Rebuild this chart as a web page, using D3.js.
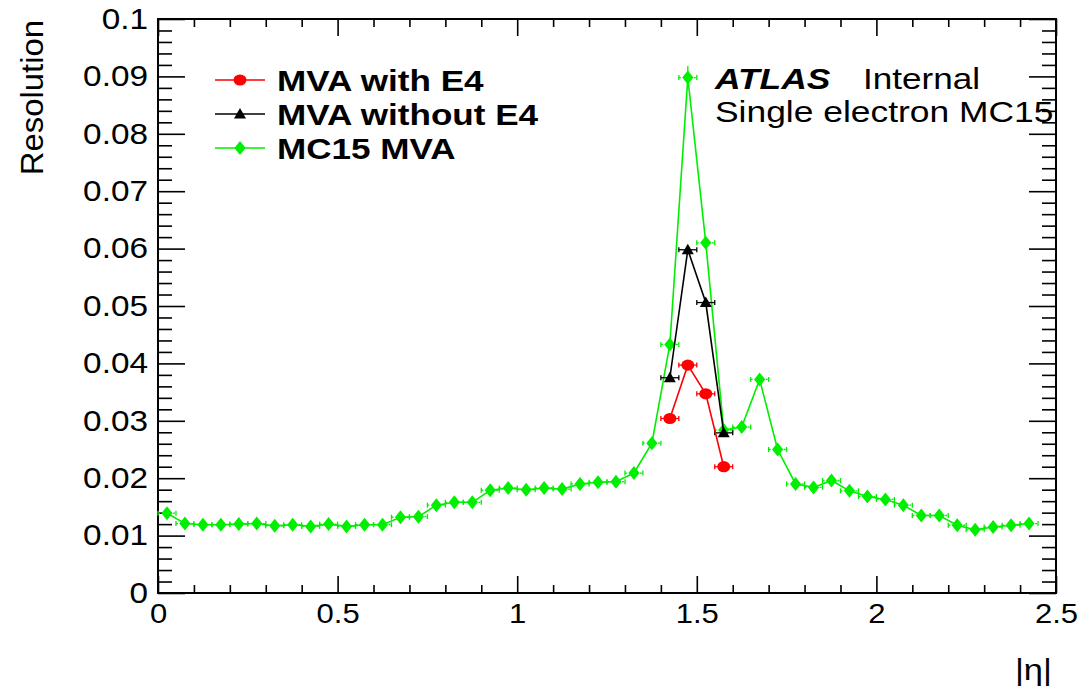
<!DOCTYPE html>
<html>
<head>
<meta charset="utf-8">
<script src="https://cdn.jsdelivr.net/npm/d3@7"></script>
<style>
  body { margin: 0; background: #fff; }
  text { font-family: "Liberation Sans", Arial, Helvetica, sans-serif; }
</style>
</head>
<body>
<div id="chart"></div>
<script>
// DATA
const eta = [0.025, 0.075, 0.125, 0.175, 0.225, 0.275, 0.325, 0.375, 0.425, 0.475,
             0.525, 0.575, 0.625, 0.675, 0.725, 0.775, 0.825, 0.875, 0.925, 0.975,
             1.025, 1.075, 1.125, 1.175, 1.225, 1.275, 1.325, 1.375, 1.425, 1.475,
             1.525, 1.575, 1.625, 1.675, 1.725, 1.775, 1.825, 1.875, 1.925, 1.975,
             2.025, 2.075, 2.125, 2.175, 2.225, 2.275, 2.325, 2.375, 2.425];
const mc15 = [0.0139, 0.0121, 0.0119, 0.0119, 0.0120, 0.0121, 0.0117, 0.0119, 0.0116, 0.0120,
              0.0116, 0.0119, 0.0119, 0.0132, 0.0133, 0.0153, 0.0158, 0.0158, 0.0179, 0.0183,
              0.0180, 0.0183, 0.0181, 0.0190, 0.0193, 0.0194, 0.0209, 0.0261, 0.0433, 0.0898,
              0.0610, 0.0284, 0.0289, 0.0372, 0.0250, 0.0190, 0.0184, 0.0196, 0.0178, 0.0168,
              0.0163, 0.0153, 0.0135, 0.0135, 0.0118, 0.0110, 0.0115, 0.0118, 0.0121];
// vertical errors, only visible around the crack region
const mc15Err = [0, 0, 0, 0, 0, 0, 0, 0, 0, 0,
                 0, 0, 0, 0, 0, 0, 0, 0, 0, 0,
                 0, 0, 0, 0, 0, 0, 0, 0.0002, 0.0006, 0.0020,
                 0.0008, 0.0003, 0, 0.0003, 0, 0, 0, 0, 0, 0,
                 0, 0, 0, 0, 0, 0, 0, 0, 0];
const etaCrack = [1.425, 1.475, 1.525, 1.575];
const withE4 = [0.0304, 0.0397, 0.0347, 0.0220];
const withoutE4 = [0.0375, 0.0598, 0.0506, 0.0279];
const halfBin = 0.025;

const seriesNames = ["MVA with E4", "MVA without E4", "MC15 MVA"];
const xTicks = [0, 0.5, 1, 1.5, 2, 2.5];
const xTickLabels = ["0", "0.5", "1", "1.5", "2", "2.5"];
const yTicks = [0, 0.01, 0.02, 0.03, 0.04, 0.05, 0.06, 0.07, 0.08, 0.09, 0.1];
const yTickLabels = ["0", "0.01", "0.02", "0.03", "0.04", "0.05", "0.06", "0.07", "0.08", "0.09", "0.1"];

const W = 1085, H = 693;
const margin = { top: 19, right: 29, bottom: 100, left: 158 };
const SX = 1.15; // ROOT fonts look horizontally stretched

const svg = d3.select("#chart").append("svg")
    .attr("width", W)
    .attr("height", H);

// SCALES
const x = d3.scaleLinear().domain([0, 2.5]).range([margin.left, W - margin.right]);
const y = d3.scaleLinear().domain([0, 0.1]).range([H - margin.bottom, margin.top]);

const x0 = x.range()[0], x1 = x.range()[1];
const y0 = y.range()[0], y1 = y.range()[1];

// minor tick values
const xMinor = d3.range(0, 26).map(i => i / 10).filter(v => Math.abs(v * 2 - Math.round(v * 2)) > 1e-6);
const yMinor = d3.range(0, 51).map(i => i / 500).filter(v => Math.abs(v * 100 - Math.round(v * 100)) > 1e-6);

function styleAxis(g) {
    g.select(".domain").remove();
    g.selectAll("line").attr("stroke", "#000").attr("stroke-width", 1.6);
}

// AXES - bottom
svg.append("g").attr("transform", "translate(0," + y0 + ")")
    .call(d3.axisBottom(x).tickValues(xTicks).tickSize(-17).tickPadding(11)
        .tickFormat((d, i) => xTickLabels[i]))
    .call(styleAxis)
    .call(g => g.selectAll("text")
        .attr("font-size", 27).attr("fill", "#000")
        .attr("transform", "scale(" + SX + ",1)"));
svg.append("g").attr("transform", "translate(0," + y0 + ")")
    .call(d3.axisBottom(x).tickValues(xMinor).tickSize(-8).tickFormat(""))
    .call(styleAxis);
// top
svg.append("g").attr("transform", "translate(0," + y1 + ")")
    .call(d3.axisTop(x).tickValues(xTicks).tickSize(-17).tickFormat(""))
    .call(styleAxis);
svg.append("g").attr("transform", "translate(0," + y1 + ")")
    .call(d3.axisTop(x).tickValues(xMinor).tickSize(-8).tickFormat(""))
    .call(styleAxis);
// left
svg.append("g").attr("transform", "translate(" + x0 + ",0)")
    .call(d3.axisLeft(y).tickValues(yTicks).tickSize(-27).tickPadding(9)
        .tickFormat((d, i) => yTickLabels[i]))
    .call(styleAxis)
    .call(g => g.selectAll("text")
        .attr("font-size", 29).attr("fill", "#000").attr("x", 0)
        .attr("transform", "translate(-10,0) scale(" + SX + ",1)"));
svg.append("g").attr("transform", "translate(" + x0 + ",0)")
    .call(d3.axisLeft(y).tickValues(yMinor).tickSize(-14).tickFormat(""))
    .call(styleAxis);
// right
svg.append("g").attr("transform", "translate(" + x1 + ",0)")
    .call(d3.axisRight(y).tickValues(yTicks).tickSize(-27).tickFormat(""))
    .call(styleAxis);
svg.append("g").attr("transform", "translate(" + x1 + ",0)")
    .call(d3.axisRight(y).tickValues(yMinor).tickSize(-14).tickFormat(""))
    .call(styleAxis);

// frame
svg.append("rect")
    .attr("x", x0).attr("y", y1)
    .attr("width", x1 - x0).attr("height", y0 - y1)
    .attr("fill", "none").attr("stroke", "#000").attr("stroke-width", 2);

// axis titles
svg.append("text")
    .attr("transform", "translate(43,20) rotate(-90) scale(1.06,1)")
    .attr("text-anchor", "end")
    .attr("font-size", 31)
    .text("Resolution");
svg.append("text")
    .attr("transform", "translate(1052,680) scale(" + SX + ",1)")
    .attr("text-anchor", "end")
    .attr("font-size", 30)
    .text("|\u03b7|");

// MARKERS
function marker(g, type, color) {
    if (type === "circle") {
        g.append("ellipse").attr("rx", 6.5).attr("ry", 5.6).attr("fill", color);
    } else if (type === "triangle") {
        g.append("path").attr("d", "M0,-6L6,4.5L-6,4.5Z").attr("fill", color);
    } else {
        g.append("path").attr("d", "M0,-7L5.6,0L0,7L-5.6,0Z").attr("fill", color);
    }
}

const series = [
    { name: seriesNames[2], xs: eta, ys: mc15, err: mc15Err, color: "#00ee00", type: "diamond" },
    { name: seriesNames[1], xs: etaCrack, ys: withoutE4, err: [0.0002, 0.0006, 0.0004, 0.0002], color: "#000", type: "triangle" },
    { name: seriesNames[0], xs: etaCrack, ys: withE4, err: [0.0002, 0.0003, 0.0003, 0.0002], color: "#ff0000", type: "circle" }
];

const line = d3.line().x(d => x(d[0])).y(d => y(d[1]));

series.forEach(s => {
    const pts = s.xs.map((v, i) => [v, s.ys[i], s.err[i]]);
    const g = svg.append("g");
    // error bars
    const eb = g.selectAll(".eb").data(pts).enter().append("g")
        .attr("transform", d => "translate(" + x(d[0]) + "," + y(d[1]) + ")");
    eb.append("line")
        .attr("x1", d => x(d[0] - halfBin) - x(d[0])).attr("x2", d => x(d[0] + halfBin) - x(d[0]))
        .attr("stroke", s.color).attr("stroke-width", 1.3)
        .attr("stroke-dasharray", s.type === "diamond" ? "2,3" : null);
    eb.append("line")
        .attr("x1", d => x(d[0] - halfBin) - x(d[0])).attr("x2", d => x(d[0] - halfBin) - x(d[0]))
        .attr("y1", -2.5).attr("y2", 2.5).attr("stroke", s.color).attr("stroke-width", 1.3);
    eb.append("line")
        .attr("x1", d => x(d[0] + halfBin) - x(d[0])).attr("x2", d => x(d[0] + halfBin) - x(d[0]))
        .attr("y1", -2.5).attr("y2", 2.5).attr("stroke", s.color).attr("stroke-width", 1.3);
    eb.filter(d => d[2] > 0).append("line")
        .attr("y1", d => y(d[1] + d[2]) - y(d[1])).attr("y2", d => y(d[1] - d[2]) - y(d[1]))
        .attr("stroke", s.color).attr("stroke-width", 1.3);
    // connecting line
    g.append("path").datum(pts)
        .attr("d", line)
        .attr("fill", "none").attr("stroke", s.color).attr("stroke-width", 1.6);
    // markers
    g.selectAll(".m").data(pts).enter().append("g")
        .attr("transform", d => "translate(" + x(d[0]) + "," + y(d[1]) + ")")
        .each(function () { marker(d3.select(this), s.type, s.color); });
});

// LEGEND
const legendRows = [series[2], series[1], series[0]];
const legend = svg.append("g");
legendRows.forEach((s, i) => {
    const ly = 80 + i * 34;
    legend.append("line").attr("x1", 215).attr("x2", 265).attr("y1", ly).attr("y2", ly)
        .attr("stroke", s.color).attr("stroke-width", 1.6);
    const mg = legend.append("g").attr("transform", "translate(240," + ly + ")");
    marker(mg, s.type, s.color);
    legend.append("text")
        .attr("transform", "translate(277," + (ly + 11) + ") scale(1.17,1)")
        .attr("font-size", 30).attr("font-weight", "bold")
        .text(s.name);
});

// ATLAS label
svg.append("text")
    .attr("transform", "translate(715,89) scale(1.2,1)")
    .attr("font-size", 29.5).attr("font-weight", "bold").attr("font-style", "italic")
    .text("ATLAS");
svg.append("text")
    .attr("transform", "translate(863,89) scale(1.19,1)")
    .attr("font-size", 29.5)
    .text("Internal");
svg.append("text")
    .attr("transform", "translate(715,122) scale(1.2,1)")
    .attr("font-size", 29.5)
    .text("Single electron MC15");
</script>
</body>
</html>
